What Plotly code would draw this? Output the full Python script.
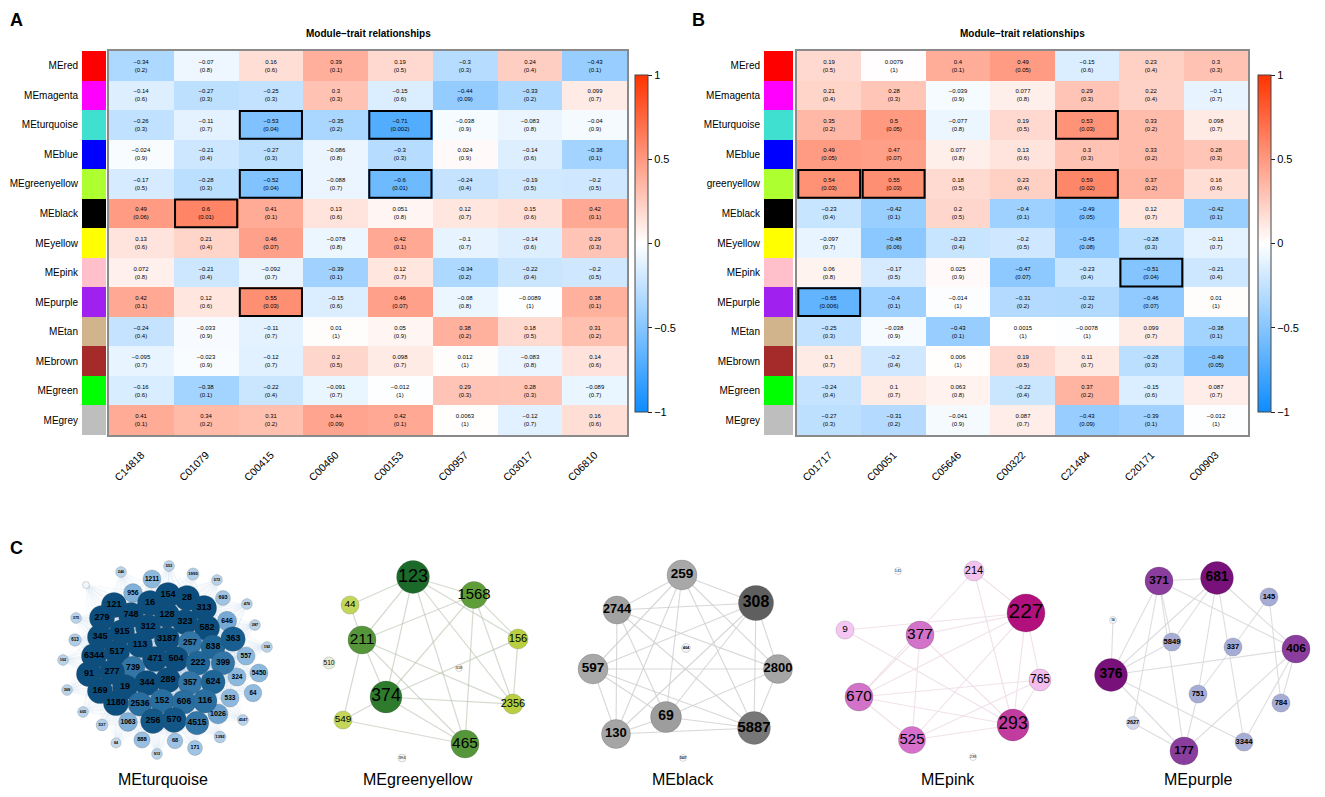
import plotly.graph_objects as go

W, H = 1325, 797
OFF = 8                      # default page margin around the figure div
FW, FH = W - 2 * OFF, H - 2 * OFF
FONT = "Arial, Liberation Sans, sans-serif"

# ---------------- data: heatmaps ----------------
modules = ["MEred", "MEmagenta", "MEturquoise", "MEblue", "MEgreenyellow", "MEblack", "MEyellow",
           "MEpink", "MEpurple", "MEtan", "MEbrown", "MEgreen", "MEgrey"]
modules_b_labels = ["MEred", "MEmagenta", "MEturquoise", "MEblue", "greenyellow", "MEblack", "MEyellow",
                    "MEpink", "MEpurple", "MEtan", "MEbrown", "MEgreen", "MEgrey"]
module_colors = ["#FF0000", "#FF00FF", "#40E0D0", "#0000FF", "#ADFF2F", "#000000", "#FFFF00",
                 "#FFC0CB", "#A020F0", "#D2B48C", "#A52A2A", "#00FF00", "#BEBEBE"]

traits_a = ["C14818", "C01079", "C00415", "C00460", "C00153", "C00957", "C03017", "C06810"]
cor_a = [
    [-0.34, -0.07, 0.16, 0.39, 0.19, -0.3, 0.24, -0.43],
    [-0.14, -0.27, -0.25, 0.3, -0.15, -0.44, -0.33, 0.099],
    [-0.26, -0.11, -0.53, -0.35, -0.71, -0.038, -0.083, -0.04],
    [-0.024, -0.21, -0.27, -0.086, -0.3, 0.024, -0.14, -0.38],
    [-0.17, -0.28, -0.52, -0.088, -0.6, -0.24, -0.19, -0.2],
    [0.49, 0.6, 0.41, 0.13, 0.051, 0.12, 0.15, 0.42],
    [0.13, 0.21, 0.46, -0.078, 0.42, -0.1, -0.14, 0.29],
    [0.072, -0.21, -0.092, -0.39, 0.12, -0.34, -0.22, -0.2],
    [0.42, 0.12, 0.55, -0.15, 0.46, -0.08, -0.0089, 0.38],
    [-0.24, -0.033, -0.11, 0.01, 0.05, 0.38, 0.18, 0.31],
    [-0.095, -0.023, -0.12, 0.2, 0.098, 0.012, -0.083, 0.14],
    [-0.16, -0.38, -0.22, -0.091, -0.012, 0.29, 0.28, -0.089],
    [0.41, 0.34, 0.31, 0.44, 0.42, 0.0063, -0.12, 0.16],
]
p_a = [
    [0.2, 0.8, 0.6, 0.1, 0.5, 0.3, 0.4, 0.1],
    [0.6, 0.3, 0.3, 0.3, 0.6, 0.09, 0.2, 0.7],
    [0.3, 0.7, 0.04, 0.2, 0.002, 0.9, 0.8, 0.9],
    [0.9, 0.4, 0.3, 0.8, 0.3, 0.9, 0.6, 0.1],
    [0.5, 0.3, 0.04, 0.7, 0.01, 0.4, 0.5, 0.5],
    [0.06, 0.01, 0.1, 0.6, 0.8, 0.7, 0.6, 0.1],
    [0.6, 0.4, 0.07, 0.8, 0.1, 0.7, 0.6, 0.3],
    [0.8, 0.4, 0.7, 0.1, 0.7, 0.2, 0.4, 0.5],
    [0.1, 0.6, 0.03, 0.6, 0.07, 0.8, 1, 0.1],
    [0.4, 0.9, 0.7, 1, 0.9, 0.2, 0.5, 0.2],
    [0.7, 0.9, 0.7, 0.5, 0.7, 1, 0.8, 0.6],
    [0.6, 0.1, 0.4, 0.7, 1, 0.3, 0.3, 0.7],
    [0.1, 0.2, 0.2, 0.09, 0.1, 1, 0.7, 0.6],
]

traits_b = ["C01717", "C00051", "C05646", "C00322", "C21484", "C20171", "C00903"]
cor_b = [
    [0.19, 0.0079, 0.4, 0.49, -0.15, 0.23, 0.3],
    [0.21, 0.28, -0.039, 0.077, 0.29, 0.22, -0.1],
    [0.35, 0.5, -0.077, 0.19, 0.53, 0.33, 0.098],
    [0.49, 0.47, 0.077, 0.13, 0.3, 0.33, 0.28],
    [0.54, 0.55, 0.18, 0.23, 0.59, 0.37, 0.16],
    [-0.23, -0.42, 0.2, -0.4, -0.49, 0.12, -0.42],
    [-0.097, -0.48, -0.23, -0.2, -0.45, -0.28, -0.11],
    [0.06, -0.17, 0.025, -0.47, -0.23, -0.51, -0.21],
    [-0.65, -0.4, -0.014, -0.31, -0.32, -0.46, 0.01],
    [-0.25, -0.038, -0.43, 0.0015, -0.0078, 0.099, -0.38],
    [0.1, -0.2, 0.006, 0.19, 0.11, -0.28, -0.49],
    [-0.24, 0.1, 0.063, -0.22, 0.37, -0.15, 0.087],
    [-0.27, -0.31, -0.041, 0.087, -0.43, -0.39, -0.012],
]
p_b = [
    [0.5, 1, 0.1, 0.05, 0.6, 0.4, 0.3],
    [0.4, 0.3, 0.9, 0.8, 0.3, 0.4, 0.7],
    [0.2, 0.05, 0.8, 0.5, 0.03, 0.2, 0.7],
    [0.05, 0.07, 0.8, 0.6, 0.3, 0.2, 0.3],
    [0.03, 0.03, 0.5, 0.4, 0.02, 0.2, 0.6],
    [0.4, 0.1, 0.5, 0.1, 0.05, 0.7, 0.1],
    [0.7, 0.06, 0.4, 0.5, 0.08, 0.3, 0.7],
    [0.8, 0.5, 0.9, 0.07, 0.4, 0.04, 0.4],
    [0.006, 0.1, 1, 0.2, 0.2, 0.07, 1],
    [0.3, 0.9, 0.1, 1, 1, 0.7, 0.1],
    [0.7, 0.4, 1, 0.5, 0.7, 0.3, 0.05],
    [0.4, 0.7, 0.8, 0.4, 0.2, 0.6, 0.7],
    [0.3, 0.2, 0.9, 0.7, 0.09, 0.1, 1],
]

# ---------------- data: networks (layout coordinates, connectivity) ----------------
tq_labels = ["", "246", "553", "1211", "1995", "572", "956", "693", "476", "375", "287", "613", "646", "192",
             "102", "557", "5450", "324", "369", "64", "533", "605", "1026", "4547", "537", "1063", "888",
             "1392", "84", "68", "171", "913",
             "121", "16", "154", "28", "313", "279", "748", "128", "323", "582", "345", "915", "312", "3187",
             "257", "838", "363", "6344", "517", "113", "471", "504", "222", "399", "739", "91", "277", "344",
             "289", "357", "624", "169", "19", "1180", "2536", "152", "606", "116", "256", "570", "4515"]
tq_x = [46, 81, 129, 112, 153, 177, 93, 183, 207, 36, 215, 35, 187, 227,
        23, 206, 219, 197, 27, 213, 190, 43, 178, 203, 62, 88, 102,
        180, 76, 135, 155, 117,
        74, 110, 128, 147, 164, 62, 91, 127, 145, 167, 60, 82, 108, 127,
        150, 173, 193, 54, 77, 100, 115, 136, 158, 183, 93, 49, 72, 107,
        128, 150, 173, 60, 85, 76, 100, 122, 144, 165, 113, 134, 157]
tq_y = [30, 17, 11, 24, 19, 25, 38, 43, 49, 63, 70, 85, 66, 92,
        105, 101, 118, 122, 135, 138, 143, 157, 159, 165, 170, 167, 185,
        182, 188, 186, 193, 199,
        50, 48, 40, 43, 53, 63, 60, 60, 67, 73, 82, 77, 72, 84,
        88, 92, 84, 101, 97, 90, 104, 104, 108, 108, 113, 119, 117, 128,
        125, 128, 127, 136, 132, 148, 149, 146, 147, 146, 166, 165, 168]
tq_k = [0.03, 0.15, 0.15, 0.38, 0.19, 0.15, 0.40, 0.28, 0.15, 0.15, 0.15, 0.20, 0.42, 0.15,
        0.15, 0.38, 0.38, 0.38, 0.15, 0.36, 0.38, 0.15, 0.44, 0.15, 0.18, 0.40, 0.32,
        0.18, 0.13, 0.30, 0.28, 0.15,
        0.60, 0.60, 0.60, 0.60, 0.60, 0.60, 0.60, 0.60, 0.60, 0.60, 0.60, 0.60, 0.60, 0.60,
        0.55, 0.57, 0.58, 0.60, 0.60, 0.60, 0.60, 0.60, 0.57, 0.55, 0.55, 0.60, 0.60, 0.60,
        0.60, 0.55, 0.57, 0.60, 0.60, 0.60, 0.56, 0.56, 0.56, 0.56, 0.59, 0.59, 0.55]

gy_labels = ["123", "1568", "44", "211", "156", "510", "318", "374", "2356", "549", "465", "394"]
gy_x = [113, 174, 50, 62, 218, 29, 159, 86, 213, 43, 165, 102]
gy_y = [22, 40, 50, 85, 84, 108, 113, 142, 149, 165, 189, 203]
gy_k = [0.84, 0.66, 0.38, 0.69, 0.44, 0.19, 0.03, 0.81, 0.44, 0.38, 0.69, 0.06]
gy_edges = [("123", "211"), ("123", "374"), ("123", "1568"), ("123", "156"), ("123", "465"), ("123", "2356"),
            ("123", "44"), ("1568", "211"), ("1568", "374"), ("1568", "156"), ("1568", "2356"), ("1568", "465"),
            ("211", "374"), ("211", "465"), ("211", "549"), ("211", "2356"), ("374", "465"), ("374", "2356"),
            ("374", "156"), ("374", "549"), ("549", "465"), ("156", "2356"), ("44", "211")]

bk_labels = ["259", "308", "2744", "404", "597", "2800", "69", "130", "5887", "1607"]
bk_x = [122, 196, 57, 126, 33, 218, 106, 56, 194, 123]
bk_y = [20, 48, 55, 93, 114, 114, 162, 179, 173, 203]
bk_k = [0.75, 0.91, 0.69, 0.09, 0.75, 0.72, 0.78, 0.72, 0.84, 0.03]
bk_edges = [("259", "2744"), ("259", "308"), ("259", "597"), ("259", "130"), ("259", "69"), ("259", "5887"),
            ("259", "2800"), ("308", "2744"), ("308", "597"), ("308", "130"), ("308", "69"), ("308", "5887"),
            ("308", "2800"), ("2744", "130"), ("2744", "5887"), ("2744", "2800"), ("2744", "69"),
            ("597", "2800"), ("597", "5887"), ("597", "130"), ("597", "69"), ("130", "5887"), ("69", "5887"),
            ("2800", "5887"), ("69", "2800"), ("130", "69")]

pk_labels = ["141", "214", "227", "9", "377", "765", "670", "293", "525", "239"]
pk_x = [88, 164, 216, 35, 110, 230, 49, 203, 102, 163]
pk_y = [16, 16, 58, 75, 80, 125, 142, 170, 185, 202]
pk_k = [0.03, 0.44, 1.0, 0.38, 0.69, 0.50, 0.69, 0.81, 0.66, 0.03]
pk_edges = [("214", "227"), ("214", "293"), ("227", "9"), ("227", "377"), ("227", "670"), ("227", "525"),
            ("227", "293"), ("227", "765"), ("9", "293"), ("377", "670"), ("377", "525"), ("377", "293"),
            ("670", "765"), ("670", "293"), ("670", "525"), ("525", "293"), ("525", "765"), ("765", "293"),
            ("214", "670")]

pu_labels = ["371", "681", "145", "16", "5849", "337", "406", "376", "751", "784", "2627", "3344", "177"]
pu_x = [99, 157, 209, 53, 112, 173, 236, 51, 138, 221, 73, 184, 124]
pu_y = [26, 23, 42, 65, 87, 92, 94, 120, 139, 148, 168, 187, 196]
pu_k = [0.69, 0.84, 0.38, 0.03, 0.38, 0.38, 0.69, 0.84, 0.38, 0.38, 0.22, 0.38, 0.69]
pu_edges = [("371", "681"), ("371", "376"), ("371", "5849"), ("371", "406"), ("371", "177"), ("371", "2627"),
            ("681", "376"), ("681", "406"), ("681", "751"), ("681", "3344"), ("681", "5849"), ("145", "337"),
            ("145", "784"), ("376", "406"), ("376", "5849"), ("376", "177"), ("376", "3344"), ("406", "177"),
            ("406", "784"), ("406", "3344"), ("337", "751"), ("751", "177"), ("177", "2627"), ("16", "376")]


# ---------------- helpers ----------------
def fmt(v):
    return f"{v:g}".replace("-", "\u2212")


def cell_text(cor, p):
    return [[f"{fmt(c)}<br>({fmt(q)})" for c, q in zip(rc, rp)] for rc, rp in zip(cor, p)]


def px_x(v):
    return (v - OFF) / FW


def px_y(v):
    return 1 - (v - OFF) / FH


BWR = [[0.0, "rgb(13,140,255)"], [0.5, "rgb(255,255,255)"], [1.0, "rgb(255,51,0)"]]

fig = go.Figure()
shapes = []
annotations = []

hm_top, hm_bot = 51, 435
panels = [
    dict(cor=cor_a, p=p_a, traits=traits_a, labels=modules, ax="", sw="2", l=109, r=627,
         swl=82, swr=106, cbx=635, title_y=33),
    dict(cor=cor_b, p=p_b, traits=traits_b, labels=modules_b_labels, ax="3", sw="4", l=797, r=1248,
         swl=764, swr=793, cbx=1258, title_y=33),
]

for pn in panels:
    nr, nc = len(pn["cor"]), len(pn["traits"])
    xa = "x" + pn["ax"]
    ya = "y" + pn["ax"]
    fig.add_trace(go.Heatmap(
        z=pn["cor"], x=list(range(nc)), y=list(range(nr)),
        text=cell_text(pn["cor"], pn["p"]), texttemplate="%{text}",
        textfont=dict(size=6, color="black", family=FONT),
        colorscale=BWR, zmin=-1, zmax=1, xaxis=xa, yaxis=ya, hoverinfo="skip",
        colorbar=dict(x=px_x(pn["cbx"]), xanchor="left", xpad=0, ypad=0,
                      y=px_y(75), yanchor="top", len=337 / FH, lenmode="fraction",
                      thickness=13, thicknessmode="pixels", outlinewidth=1, outlinecolor="#444",
                      ticks="outside", ticklen=4, tickcolor="#222",
                      tickvals=[-1, -0.5, 0, 0.5, 1], ticktext=["\u22121", "\u22120.5", "0", "0.5", "1"],
                      tickfont=dict(size=11, color="black", family=FONT)),
    ))
    n = len(module_colors)
    cs = []
    for i, c in enumerate(module_colors):
        cs += [[i / n, c], [(i + 1) / n, c]]
    fig.add_trace(go.Heatmap(
        z=[[i] for i in range(nr)], x=[0], y=list(range(nr)), colorscale=cs,
        zmin=-0.5, zmax=n - 0.5, showscale=False, hoverinfo="skip",
        xaxis="x" + pn["sw"], yaxis="y" + pn["sw"]))
    for i in range(nr):
        for j in range(nc):
            if pn["p"][i][j] < 0.05:
                shapes.append(dict(type="rect", xref=xa, yref=ya, x0=j - 0.48, x1=j + 0.48,
                                   y0=i - 0.47, y1=i + 0.47, line=dict(color="black", width=2)))
    fig.update_layout({
        "xaxis" + pn["ax"]: dict(domain=[px_x(pn["l"]), px_x(pn["r"])], anchor=ya, range=[-0.5, nc - 0.5],
                                 tickvals=list(range(nc)), ticktext=pn["traits"], tickangle=-45, ticks="",
                                 ticklabelstandoff=8, tickfont=dict(size=10.5, color="black", family=FONT),
                                 showline=True, mirror=True, linecolor="#8a8a8a", linewidth=1.5,
                                 showgrid=False, zeroline=False, automargin=False),
        "yaxis" + pn["ax"]: dict(domain=[px_y(hm_bot), px_y(hm_top)], anchor=xa, range=[nr - 0.5, -0.5],
                                 showticklabels=False, ticks="", showline=True, mirror=True,
                                 linecolor="#8a8a8a", linewidth=1.5, showgrid=False, zeroline=False,
                                 automargin=False),
        "xaxis" + pn["sw"]: dict(domain=[px_x(pn["swl"]), px_x(pn["swr"])], anchor="y" + pn["sw"],
                                 range=[-0.5, 0.5], visible=False, automargin=False),
        "yaxis" + pn["sw"]: dict(domain=[px_y(hm_bot), px_y(hm_top)], anchor="x" + pn["sw"],
                                 range=[nr - 0.5, -0.5], tickvals=list(range(nr)), ticktext=pn["labels"],
                                 ticks="", ticklabelstandoff=3, showgrid=False, zeroline=False, showline=False,
                                 automargin=False, tickfont=dict(size=10, color="black", family=FONT)),
    })
    annotations.append(dict(text="<b>Module\u2212trait relationships</b>", xref=xa + " domain", x=0.5,
                            xanchor="center", yref="paper", y=px_y(pn["title_y"]), yanchor="middle",
                            showarrow=False, font=dict(size=10, color="black", family=FONT)))

# ---------------- networks ----------------
nets = [
    dict(name="MEturquoise", labels=tq_labels, x=tq_x, y=tq_y, k=tq_k, edges=None, left=40, w=250, lx=123,
         tf=0.36, bold=True, ecol="rgba(110,160,205,0.07)", ew=0.6,
         cs=[[0, "#ffffff"], [0.15, "#b9d3ea"], [0.38, "#8cb8dd"], [0.44, "#6ba1ce"], [0.55, "#3276a8"],
             [0.57, "#1f6698"], [0.6, "#0c4f7f"], [1, "#083c62"]]),
    dict(name="MEgreenyellow", labels=gy_labels, x=gy_x, y=gy_y, k=gy_k, edges=gy_edges, left=300, w=260,
         lx=118, tf=0.55, bold=False, ecol="rgba(185,195,175,0.6)", ew=1.2,
         cs=[[0, "#ffffff"], [0.19, "#e6edd8"], [0.38, "#c3d65a"], [0.44, "#b9cf40"], [0.66, "#5e9d37"],
             [0.69, "#55963a"], [0.81, "#2e7b2e"], [0.84, "#1c6a29"], [1, "#125a22"]]),
    dict(name="MEblack", labels=bk_labels, x=bk_x, y=bk_y, k=bk_k, edges=bk_edges, left=560, w=250, lx=123,
         tf=0.45, bold=True, ecol="rgba(205,205,205,0.8)", ew=1.1,
         cs=[[0, "#ffffff"], [0.09, "#f4f4f4"], [0.69, "#a2a2a2"], [0.75, "#a8a8a8"], [0.78, "#9d9d9d"],
             [0.84, "#777777"], [0.91, "#5f5f5f"], [1, "#555555"]]),
    dict(name="MEpink", labels=pk_labels, x=pk_x, y=pk_y, k=pk_k, edges=pk_edges, left=810, w=250, lx=138,
         tf=0.55, bold=False, ecol="rgba(238,222,232,0.9)", ew=1.1,
         cs=[[0, "#ffffff"], [0.03, "#ffffff"], [0.38, "#f6c6f2"], [0.5, "#f3bdee"], [0.66, "#d770cc"],
             [0.69, "#d272c8"], [0.81, "#c23c9f"], [1, "#b1107d"]]),
    dict(name="MEpurple", labels=pu_labels, x=pu_x, y=pu_y, k=pu_k, edges=pu_edges, left=1060, w=257, lx=138,
         tf=0.42, bold=True, ecol="rgba(215,215,220,0.85)", ew=1.1,
         cs=[[0, "#ffffff"], [0.22, "#d3d7eb"], [0.38, "#a5acd6"], [0.69, "#8b3d9d"], [0.84, "#781179"],
             [1, "#6a0a6c"]]),
]
net_top, net_h = 555, 234

for ni, nt in enumerate(nets):
    ax = str(5 + ni)
    xa, ya = "x" + ax, "y" + ax
    idx = {lab: i for i, lab in enumerate(nt["labels"])}
    if nt["edges"] is None:
        inner = [i for i, k in enumerate(nt["k"]) if k >= 0.5]
        outer = [i for i, k in enumerate(nt["k"]) if k < 0.5]
        pairs = [(inner[a], inner[b]) for a in range(len(inner)) for b in range(a + 1, len(inner))]
        pairs += [(o, i) for o in outer for i in inner]
    else:
        pairs = [(idx[a], idx[b]) for a, b in nt["edges"]]
    ex, ey = [], []
    for a, b in pairs:
        ex += [nt["x"][a], nt["x"][b], None]
        ey += [nt["y"][a], nt["y"][b], None]
    fig.add_trace(go.Scatter(x=ex, y=ey, mode="lines", line=dict(color=nt["ecol"], width=nt["ew"]),
                             hoverinfo="skip", showlegend=False, xaxis=xa, yaxis=ya))
    sizes = [6 + 32 * k for k in nt["k"]]
    fsz = [max(3, s * nt["tf"]) for s in sizes]
    fig.add_trace(go.Scatter(
        x=nt["x"], y=nt["y"], mode="markers+text", text=nt["labels"], textposition="middle center",
        textfont=dict(size=fsz, color="black", family=FONT, weight="bold" if nt["bold"] else "normal"),
        marker=dict(size=sizes, color=nt["k"], colorscale=nt["cs"], cmin=0, cmax=1,
                    line=dict(width=0.6, color="rgba(70,70,70,0.35)"), opacity=1),
        hoverinfo="skip", showlegend=False, xaxis=xa, yaxis=ya))
    fig.update_layout({
        "xaxis" + ax: dict(domain=[px_x(nt["left"]), px_x(nt["left"] + nt["w"])], anchor=ya,
                           range=[0, nt["w"]], visible=False, fixedrange=True, automargin=False),
        "yaxis" + ax: dict(domain=[px_y(net_top + net_h), px_y(net_top)], anchor=xa,
                           range=[net_h, 0], visible=False, fixedrange=True, automargin=False),
    })
    annotations.append(dict(text=nt["name"], xref=xa, x=nt["lx"], xanchor="center",
                            yref="paper", y=px_y(779), yanchor="middle", showarrow=False,
                            font=dict(size=16, color="black", family=FONT)))

for letter, lx, ly, ya_ in [("A", 8, 8, "top"), ("B", 690, 8, "top"), ("C", 8, 548, "middle")]:
    annotations.append(dict(text=f"<b>{letter}</b>", xref="paper", yref="paper", x=px_x(lx), y=px_y(ly),
                            xanchor="left", yanchor=ya_, showarrow=False,
                            font=dict(size=18, color="black", family=FONT)))

fig.update_layout(width=FW, height=FH, margin=dict(l=0, r=0, t=0, b=0, autoexpand=False),
                  paper_bgcolor="white", plot_bgcolor="white", showlegend=False,
                  shapes=shapes, annotations=annotations, font=dict(family=FONT))

fig.write_html("out.html")
